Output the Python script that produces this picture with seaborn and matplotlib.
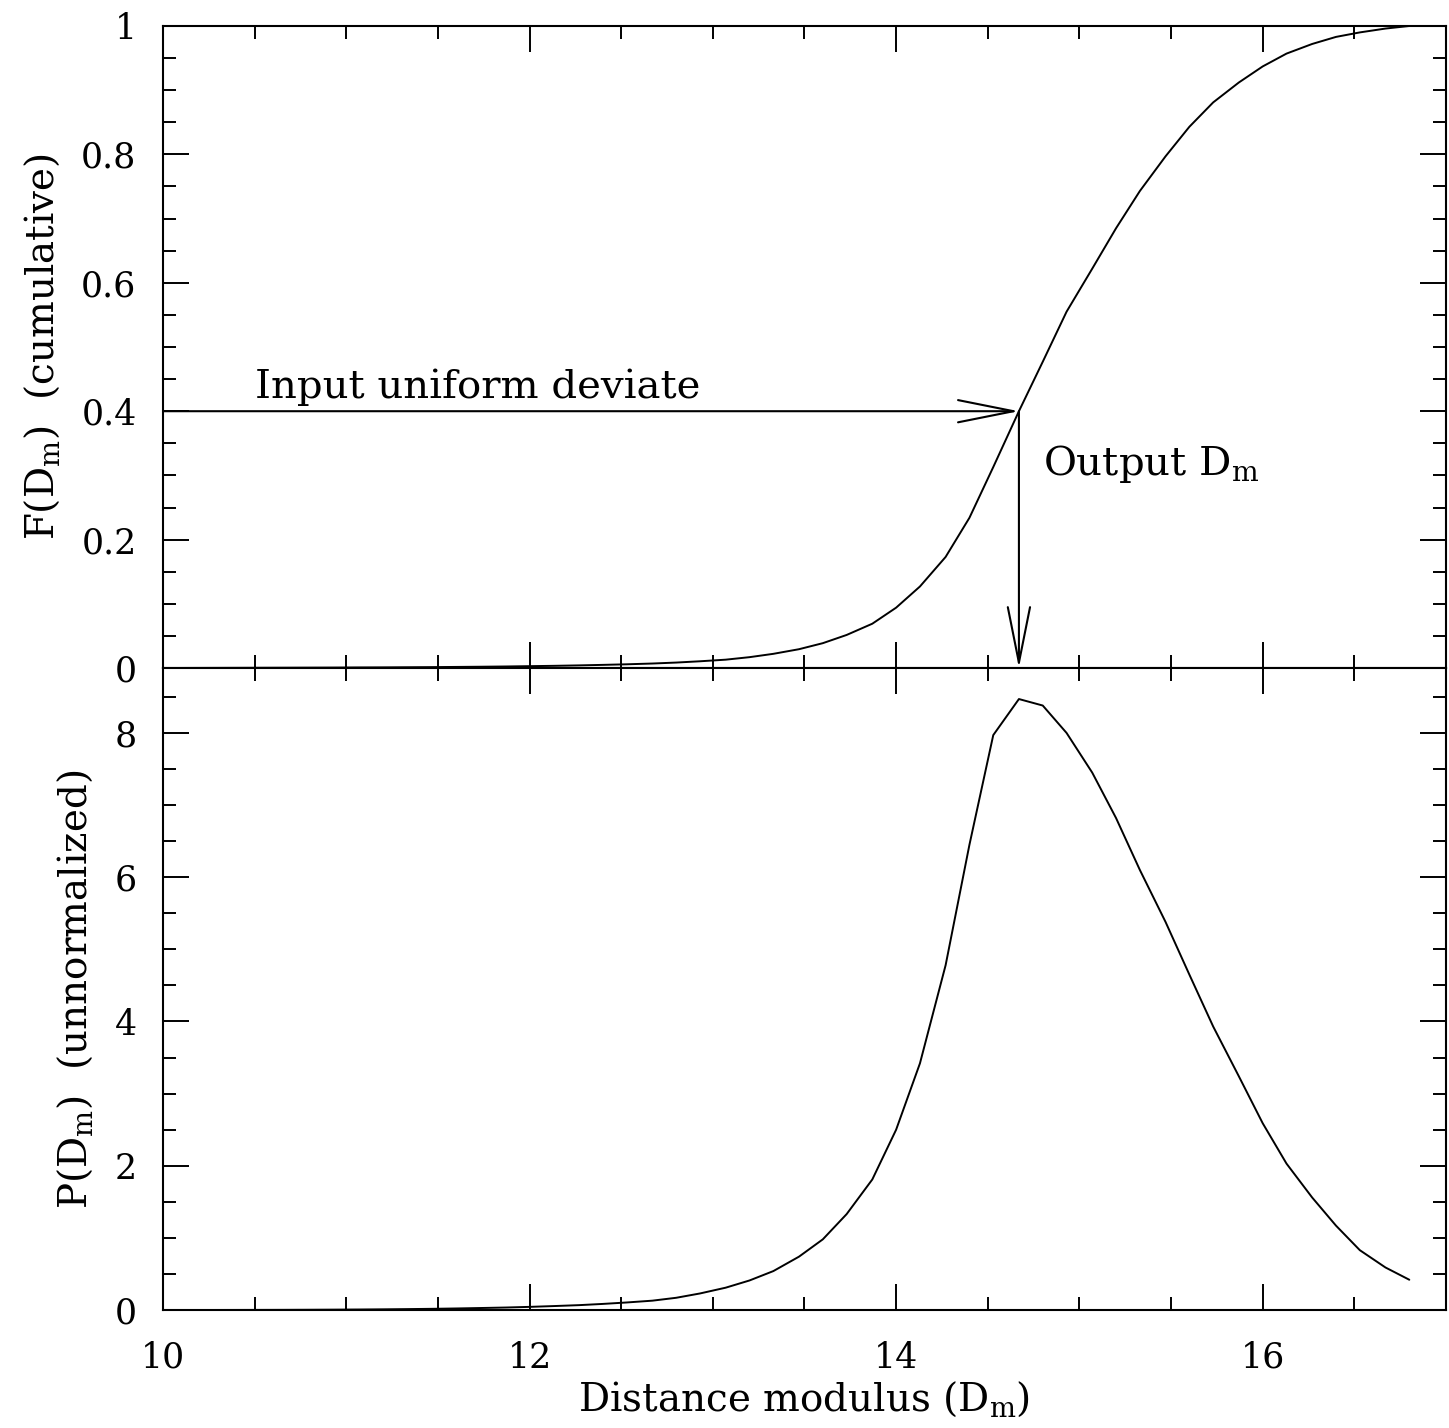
import numpy as np
import pandas as pd
import matplotlib
matplotlib.use("Agg")
import matplotlib.pyplot as plt
from matplotlib.ticker import MultipleLocator
import seaborn as sns

# ---- data ----
dist_mod = [10.00, 10.13, 10.27, 10.40, 10.53, 10.67, 10.80, 10.93, 11.07, 11.20,
            11.33, 11.47, 11.60, 11.73, 11.87, 12.00, 12.13, 12.27, 12.40, 12.53,
            12.67, 12.80, 12.93, 13.07, 13.20, 13.33, 13.47, 13.60, 13.73, 13.87,
            14.00, 14.13, 14.27, 14.40, 14.53, 14.67, 14.80, 14.93, 15.07, 15.20,
            15.33, 15.47, 15.60, 15.73, 15.87, 16.00, 16.13, 16.27, 16.40, 16.53,
            16.67, 16.80]
cumulative = [0.0, 0.0001, 0.0002, 0.0003, 0.0004, 0.0005, 0.0006, 0.0007, 0.0009, 0.0010,
              0.0012, 0.0014, 0.0017, 0.0020, 0.0024, 0.0029, 0.0034, 0.0041, 0.0049, 0.0058,
              0.0070, 0.0085, 0.0105, 0.0130, 0.0169, 0.0221, 0.0293, 0.0387, 0.0515, 0.069,
              0.094, 0.127, 0.173, 0.234, 0.313, 0.400, 0.477, 0.555, 0.622, 0.685,
              0.743, 0.797, 0.843, 0.881, 0.912, 0.937, 0.957, 0.972, 0.983, 0.990,
              0.996, 1.000]
prob = [0.0005, 0.0007, 0.001, 0.0014, 0.002, 0.0028, 0.004, 0.0055, 0.0075, 0.010,
        0.013, 0.017, 0.022, 0.028, 0.035, 0.044, 0.055, 0.068, 0.085, 0.105,
        0.13, 0.17, 0.23, 0.31, 0.41, 0.54, 0.74, 0.98, 1.33, 1.81,
        2.50, 3.42, 4.78, 6.45, 7.97, 8.47, 8.38, 8.00, 7.45, 6.82,
        6.10, 5.38, 4.65, 3.93, 3.24, 2.59, 2.03, 1.56, 1.17, 0.83,
        0.59, 0.42]
input_deviate = 0.4
output_dm = 14.67

top_ticks = [0, 0.2, 0.4, 0.6, 0.8, 1.0]
top_ticklabels = ["0", "0.2", "0.4", "0.6", "0.8", "1"]
bot_ticks = [0, 2, 4, 6, 8]
bot_ticklabels = ["0", "2", "4", "6", "8"]
x_ticks = [10, 12, 14, 16]
x_ticklabels = ["10", "12", "14", "16"]

# ---- style ----
sns.set_style("white")
plt.rcParams["font.family"] = ["DejaVu Serif"]
plt.rcParams["mathtext.fontset"] = "dejavuserif"
plt.rcParams["axes.linewidth"] = 1.5
for k in ("text.color", "axes.labelcolor", "xtick.color", "ytick.color", "axes.edgecolor"):
    plt.rcParams[k] = "black"
FS_TICK = 25
FS_LAB = 28

df = pd.DataFrame({"dm": dist_mod, "F": cumulative, "P": prob})

fig = plt.figure(figsize=(14.49, 14.28), dpi=100)
ax1 = fig.add_axes([0.1125, 0.5322, 0.8854, 0.4496])
ax2 = fig.add_axes([0.1125, 0.0826, 0.8854, 0.4496], sharex=ax1)

sns.lineplot(data=df, x="dm", y="F", ax=ax1, color="black", linewidth=1.4)
sns.lineplot(data=df, x="dm", y="P", ax=ax2, color="black", linewidth=1.4)

ax1.set_xlim(10, 17)
ax1.set_ylim(0, 1)
ax2.set_ylim(0, 8.9)

for ax in (ax1, ax2):
    for s in ax.spines.values():
        s.set_color("black")
        s.set_linewidth(1.5)
    ax.xaxis.set_minor_locator(MultipleLocator(0.5))
    ax.tick_params(which="both", direction="in", top=True, right=True,
                   bottom=True, left=True,
                   color="black", width=1.4, labelsize=FS_TICK, labelcolor="black")
    ax.tick_params(which="major", length=19)
    ax.tick_params(which="minor", length=9.5)
    ax.tick_params(axis="y", pad=19)
    ax.tick_params(axis="x", pad=22)

ax1.set_yticks(top_ticks)
ax1.set_yticklabels(top_ticklabels)
ax1.yaxis.set_minor_locator(MultipleLocator(0.05))
ax2.set_yticks(bot_ticks)
ax2.set_yticklabels(bot_ticklabels)
ax2.yaxis.set_minor_locator(MultipleLocator(0.5))
ax2.set_xticks(x_ticks)
ax2.set_xticklabels(x_ticklabels)
ax1.tick_params(axis="x", labelbottom=False)

ax1.set_xlabel("")
ax1.set_ylabel(r"F(D$_{\rm m}$)  (cumulative)", fontsize=FS_LAB, labelpad=14)
ax2.set_ylabel(r"P(D$_{\rm m}$)  (unnormalized)", fontsize=FS_LAB, labelpad=14)
ax2.set_xlabel(r"Distance modulus (D$_{\rm m}$)", fontsize=FS_LAB, labelpad=4)

# arrows
arrow_kw = dict(arrowstyle="->,head_length=2.0,head_width=0.4", color="black",
                lw=1.5, shrinkA=0, shrinkB=0, mutation_scale=20)
ax1.annotate("", xy=(output_dm, input_deviate), xytext=(10, input_deviate),
             arrowprops=arrow_kw)
ax1.annotate("", xy=(output_dm, 0), xytext=(output_dm, input_deviate),
             arrowprops=arrow_kw)
ax1.text(10.5, 0.42, "Input uniform deviate", fontsize=FS_LAB + 1, va="baseline", ha="left")
ax1.text(14.8, 0.30, r"Output D$_{\rm m}$", fontsize=FS_LAB + 1, va="baseline", ha="left")

fig.savefig("out.png", dpi=100)
